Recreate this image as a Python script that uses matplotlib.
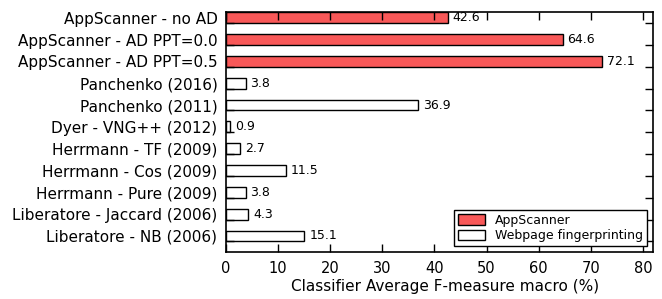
import matplotlib
matplotlib.use("Agg")
import matplotlib.pyplot as plt
import numpy as np
from matplotlib.patches import Patch

categories = [
    "AppScanner - no AD",
    "AppScanner - AD PPT=0.0",
    "AppScanner - AD PPT=0.5",
    "Panchenko (2016)",
    "Panchenko (2011)",
    "Dyer - VNG++ (2012)",
    "Herrmann - TF (2009)",
    "Herrmann - Cos (2009)",
    "Herrmann - Pure (2009)",
    "Liberatore - Jaccard (2006)",
    "Liberatore - NB (2006)",
]
values = [42.6, 64.6, 72.1, 3.8, 36.9, 0.9, 2.7, 11.5, 3.8, 4.3, 15.1]
groups = ["AppScanner"] * 3 + ["Webpage fingerprinting"] * 8
xticks = [0, 10, 20, 30, 40, 50, 60, 70, 80]

colors = {"AppScanner": "#F85858", "Webpage fingerprinting": "white"}

plt.rcParams["font.family"] = ["DejaVu Sans"]
fig = plt.figure(figsize=(6.62, 2.99), dpi=100)
ax = fig.add_axes([0.341, 0.156, 0.646, 0.803])

pos = np.arange(len(categories))
h = 0.5
ax.barh(pos - h, values, height=h, align="edge",
        color=[colors[g] for g in groups], edgecolor="black", linewidth=1.0)

for p, v in zip(pos, values):
    ax.annotate(f"{v}", xy=(v, p - h / 2), xytext=(3.5, 0),
                textcoords="offset points", va="center", ha="left", fontsize=9)

ax.set_ylim(len(categories) - 0.5, -0.5)
ax.set_xlim(0, 82)
ax.set_xticks(xticks)
ax.set_yticks(pos)
ax.set_yticklabels([])
ax.set_yticks(pos - h / 2, minor=True)
ax.set_yticklabels(categories, minor=True, fontsize=11)
ax.tick_params(axis="y", which="minor", length=0, pad=6)
ax.tick_params(axis="both", which="major", direction="in", length=5.5,
               width=1, top=True, right=True, labelsize=10.5, pad=6)
ax.set_xlabel("Classifier Average F-measure macro (%)", fontsize=11)
ax.xaxis.set_label_coords(0.513, -0.113)
for s in ax.spines.values():
    s.set_linewidth(1.2)

handles = [Patch(facecolor=colors[g], edgecolor="black", label=g)
           for g in ["AppScanner", "Webpage fingerprinting"]]
leg = ax.legend(handles=handles, loc="lower right", fontsize=9, fancybox=False,
                edgecolor="black", framealpha=1, borderaxespad=0.5,
                handlelength=2.2, handleheight=0.9, borderpad=0.3, labelspacing=0.2)
leg.get_frame().set_linewidth(1.0)

fig.savefig("out.png", dpi=100)
